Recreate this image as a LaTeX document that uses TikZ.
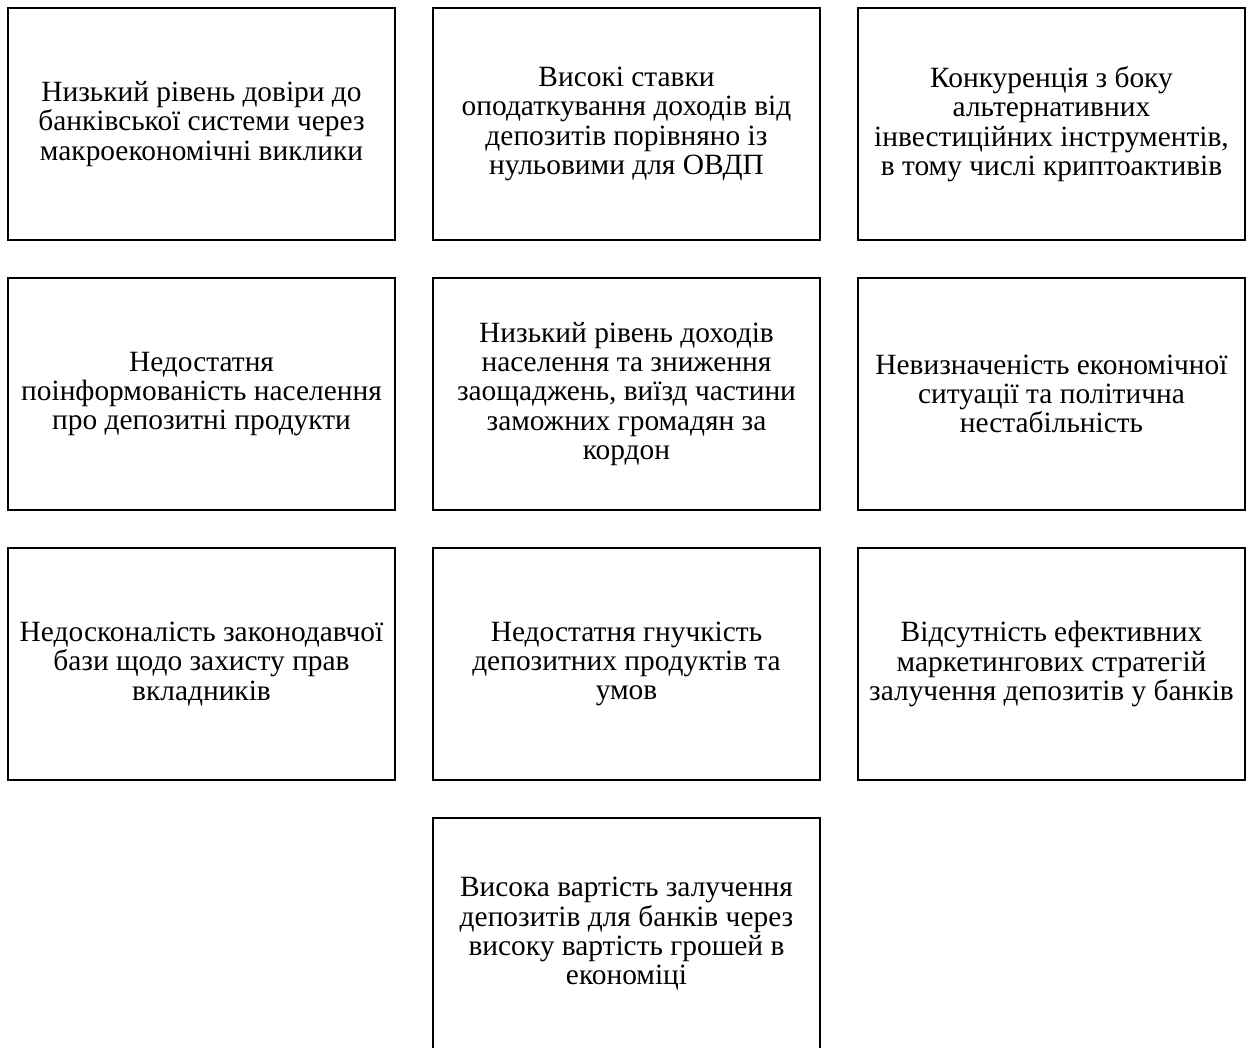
\documentclass[tikz,border=0pt]{standalone}
\usepackage{fontspec}
\setmainfont{Liberation Serif}
\usepackage{tikz}
\usetikzlibrary{positioning}
\tikzset{
  factor/.style={draw, line width=1.4pt, minimum width=193.5pt, minimum height=116pt,
    align=center, inner sep=0pt, font=\fontsize{14.7}{14.7}\selectfont}
}

\begin{document}
\begin{tikzpicture}[x=0.5pt, y=-0.5pt]
\useasboundingbox (0,0) rectangle (1249,1048);
\clip (0,0) rectangle (1249,1048);
\node[factor] (f1) at (201.5,124) {Низький рівень довіри до\\банківської системи через\\макроекономічні виклики};
\node[factor] (f2) at (626.5,124) {Високі ставки\\оподаткування доходів від\\депозитів порівняно із\\нульовими для ОВДП};
\node[factor] (f3) at (1051.5,124) {Конкуренція з боку\\альтернативних\\інвестиційних інструментів,\\в тому числі криптоактивів};
\node[factor] (f4) at (201.5,394) {Недостатня\\поінформованість населення\\про депозитні продукти};
\node[factor] (f5) at (626.5,394) {Низький рівень доходів\\населення та зниження\\заощаджень, виїзд частини\\заможних громадян за\\кордон};
\node[factor] (f6) at (1051.5,394) {Невизначеність економічної\\ситуації та політична\\нестабільність};
\node[factor] (f7) at (201.5,664) {Недосконалість законодавчої\\бази щодо захисту прав\\вкладників};
\node[factor] (f8) at (626.5,664) {Недостатня гнучкість\\депозитних продуктів та\\умов};
\node[factor] (f9) at (1051.5,664) {Відсутність ефективних\\маркетингових стратегій\\залучення депозитів у банків};
\node[factor] (f10) at (626.5,934) {Висока вартість залучення\\депозитів для банків через\\високу вартість грошей в\\економіці};
\end{tikzpicture}
\end{document}
